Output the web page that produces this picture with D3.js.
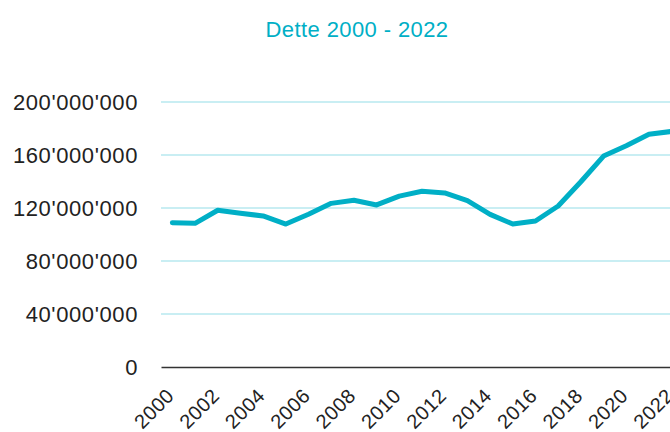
<!DOCTYPE html>
<html>
<head>
<meta charset="utf-8">
<script src="https://cdn.jsdelivr.net/npm/d3@7"></script>
<style>
  body { margin: 0; background: #fff; }
  svg { display: block; font-family: "Liberation Sans", Arial, sans-serif; }
</style>
</head>
<body>
<div id="chart"></div>
<script>
const mainColor = "#00afc6";
const gridColor = "#c9eef3";

// debt per year
const years = d3.range(2000, 2023);
const debt = [
  108.9e6, 108.4e6, 118.3e6, 116.0e6, 114.0e6, 107.9e6, 115.3e6, 123.5e6,
  125.8e6, 122.3e6, 129.0e6, 132.6e6, 131.4e6, 125.5e6, 115.2e6, 107.9e6,
  110.2e6, 121.5e6, 139.8e6, 159.2e6, 167.0e6, 175.6e6, 177.8e6
];
const yTicks = [0, 40e6, 80e6, 120e6, 160e6, 200e6];
const xTickYears = years.filter(d => d % 2 === 0);

const W = 670, H = 432;
const plot = {left: 161, right: 683, top: 102, bottom: 367};

const svg = d3.select("#chart")
  .append("svg")
    .attr("width", W)
    .attr("height", H);

const xScale = d3.scaleBand()
  .domain(years)
  .range([plot.left, plot.right]);
const yScale = d3.scaleLinear()
  .domain([0, 200e6])
  .range([plot.bottom, plot.top]);

const fmt = v => v === 0 ? "0" : d3.format(",")(v).replace(/,/g, "'");

// title
svg.append("text")
  .attr("x", 357)
  .attr("y", 37)
  .attr("text-anchor", "middle")
  .attr("font-size", 22)
  .attr("letter-spacing", 0.4)
  .attr("fill", mainColor)
  .text("Dette 2000 - 2022");

// gridlines
svg.append("g")
  .selectAll("line")
  .data(yTicks.filter(d => d > 0))
  .join("line")
    .attr("x1", plot.left)
    .attr("x2", plot.right)
    .attr("y1", d => yScale(d))
    .attr("y2", d => yScale(d))
    .attr("stroke", gridColor)
    .attr("stroke-width", 2);

// y axis labels
const yAxis = svg.append("g")
  .attr("transform", "translate(" + plot.left + ",0)")
  .call(d3.axisLeft(yScale).tickValues(yTicks).tickFormat(fmt).tickSize(0).tickPadding(23));
yAxis.select(".domain").remove();
yAxis.selectAll("text")
  .attr("font-size", 22)
  .attr("letter-spacing", 0.6)
  .attr("font-family", "Liberation Sans, Arial, sans-serif")
  .attr("fill", "#222");

// x axis
const xAxis = svg.append("g")
  .attr("transform", "translate(0," + plot.bottom + ")")
  .call(d3.axisBottom(xScale).tickValues(xTickYears).tickSize(0).tickPadding(0));
xAxis.select(".domain")
  .attr("stroke", "#333")
  .attr("stroke-width", 1.5);
xAxis.selectAll("text")
  .attr("font-size", 20)
  .attr("letter-spacing", 0.5)
  .attr("font-family", "Liberation Sans, Arial, sans-serif")
  .attr("fill", "#222")
  .attr("text-anchor", "end")
  .attr("dy", null)
  .attr("y", 0)
  .attr("transform", "translate(3,30) rotate(-45)");

// line
const line = d3.line()
  .x((d, i) => xScale(years[i]) + xScale.bandwidth() / 2)
  .y(d => yScale(d));

svg.append("path")
  .datum(debt)
  .attr("d", line)
  .attr("fill", "none")
  .attr("stroke", mainColor)
  .attr("stroke-width", 5)
  .attr("stroke-linejoin", "round")
  .attr("stroke-linecap", "round");
</script>
</body>
</html>
